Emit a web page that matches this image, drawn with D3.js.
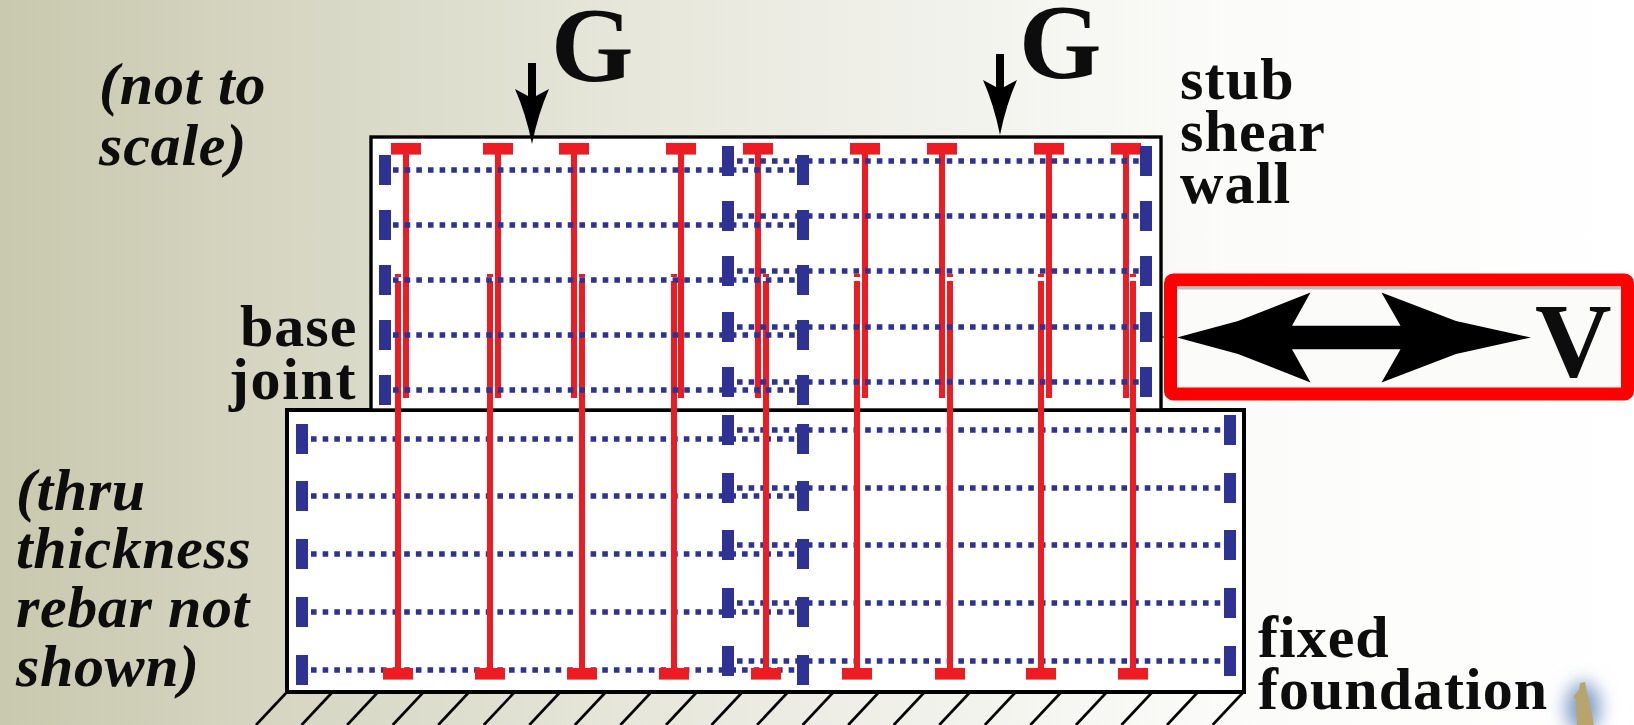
<!DOCTYPE html>
<html>
<head>
<meta charset="utf-8">
<script src="https://cdn.jsdelivr.net/npm/d3@7"></script>
<style>
  html, body { margin: 0; padding: 0; background: #fff; overflow: hidden; }
  svg { display: block; }
  text { font-family: "Liberation Serif", serif; font-weight: bold; fill: #0a0a0a; }
</style>
</head>
<body>
<div id="my_dataviz"></div>
<script>
// drawing units: x from left edge of foundation, y down from top of stub wall
var upperBarsX = [119, 211, 287, 394, 471, 578, 655, 762, 839]
var lowerBarsX = [111, 203, 295, 387, 479, 570, 663, 754, 846]

var wallRowsA = [33, 88, 143, 198, 253]
var wallRowsB = [24, 79, 134, 190, 245]
var footRowsA = [302, 359, 417, 475, 533]
var footRowsB = [293, 351, 408, 466, 524]

var wallEdges = [84, 874]
var footEdges = [0, 957]
var wallTop = 0, jointY = 273, footBottom = 555

var wallLeftBarX = 98, colAX = 441, colBX = 516, wallRightBarX = 859
var footLeftBarX = 15, footRightBarX = 943

var width = 1634, height = 725
var rebar = "#ed1c24", tie = "#2e3192", ink = "#050505"

var x = d3.scaleLinear().domain([0, 957]).range([287, 1244])
var y = d3.scaleLinear().domain([0, 555]).range([137, 692])

var svg = d3.select("#my_dataviz").append("svg")
  .attr("width", width)
  .attr("height", height)

var defs = svg.append("defs")
var grad = defs.append("linearGradient").attr("id", "bg")
grad.selectAll("stop")
  .data([[0, "#c9c9af"], [0.2, "#d8d8c6"], [0.38, "#e6e6da"], [0.6, "#f3f3ee"], [0.75, "#fbfbf9"], [1, "#ffffff"]])
  .enter().append("stop")
  .attr("offset", function(d) { return d[0] })
  .attr("stop-color", function(d) { return d[1] })
defs.append("filter").attr("id", "soft").append("feGaussianBlur").attr("stdDeviation", 0.45)
defs.append("filter").attr("id", "glow")
  .attr("x", "-100%").attr("y", "-100%").attr("width", "300%").attr("height", "300%")
  .append("feGaussianBlur").attr("stdDeviation", 9)

var g = svg.append("g").attr("filter", "url(#soft)")

g.append("rect").attr("width", width).attr("height", height).attr("fill", "url(#bg)")

// ground hatching under the foundation
g.append("g").selectAll("line")
  .data(d3.range(22))
  .enter().append("line")
  .attr("x1", function(d) { return x(d * 45.55) })
  .attr("y1", y(footBottom))
  .attr("x2", function(d) { return x(d * 45.55) - 31 })
  .attr("y2", y(footBottom) + 33)
  .attr("stroke", ink)
  .attr("stroke-width", 2.6)

// foundation and stub wall outlines
g.append("rect")
  .attr("x", x(footEdges[0])).attr("y", y(jointY))
  .attr("width", x(footEdges[1]) - x(footEdges[0]))
  .attr("height", y(footBottom) - y(jointY))
  .attr("fill", "#fff").attr("stroke", ink).attr("stroke-width", 4)
g.append("rect")
  .attr("x", x(wallEdges[0])).attr("y", y(wallTop))
  .attr("width", x(wallEdges[1]) - x(wallEdges[0]))
  .attr("height", y(jointY) - y(wallTop))
  .attr("fill", "#fff").attr("stroke", ink).attr("stroke-width", 3.4)

function dotRows(rows, x1, x2) {
  g.append("g").selectAll("line")
    .data(rows)
    .enter().append("line")
    .attr("x1", x(x1)).attr("x2", x(x2))
    .attr("y1", function(d) { return y(d) })
    .attr("y2", function(d) { return y(d) })
    .attr("stroke", tie)
    .attr("stroke-width", 5.6)
    .attr("stroke-dasharray", "5.6 6.05")
}

function tieBars(rows, xc) {
  g.append("g").selectAll("rect")
    .data(rows)
    .enter().append("rect")
    .attr("x", x(xc) - 6).attr("width", 12)
    .attr("y", function(d) { return y(d) - 15 }).attr("height", 30)
    .attr("fill", tie)
}

// foundation ties go under the rebar
dotRows(footRowsA, 24, 508)
dotRows(footRowsB, 450, 937)

// upper bars: cap at top of wall, stop just above the joint
var upper = g.append("g").selectAll("g").data(upperBarsX).enter().append("g")
upper.append("rect")
  .attr("x", function(d) { return x(d) - 15 }).attr("width", 30)
  .attr("y", y(6)).attr("height", 11.6)
  .attr("fill", rebar)
upper.append("rect")
  .attr("x", function(d) { return x(d) - 3 }).attr("width", 6)
  .attr("y", y(17)).attr("height", y(261) - y(17))
  .attr("fill", rebar)

// lower bars: lap with the upper ones, cap at bottom of foundation
var lower = g.append("g").selectAll("g").data(lowerBarsX).enter().append("g")
lower.append("rect")
  .attr("x", function(d) { return x(d) - 3 }).attr("width", 6)
  .attr("y", y(137)).attr("height", y(140) - y(137))
  .attr("fill", rebar)
lower.append("rect")
  .attr("x", function(d) { return x(d) - 3 }).attr("width", 6)
  .attr("y", y(144)).attr("height", y(531) - y(144))
  .attr("fill", rebar)
lower.append("rect")
  .attr("x", function(d) { return x(d) - 15 }).attr("width", 30)
  .attr("y", y(531)).attr("height", 11.6)
  .attr("fill", rebar)

// wall ties on top
dotRows(wallRowsA, 106, 508)
dotRows(wallRowsB, 450, 852)

tieBars(wallRowsA, wallLeftBarX)
tieBars(wallRowsB, colAX)
tieBars(wallRowsA, colBX)
tieBars(wallRowsB, wallRightBarX)
tieBars(footRowsA, footLeftBarX)
tieBars(footRowsB, colAX)
tieBars(footRowsA, colBX)
tieBars(footRowsB, footRightBarX)

// gravity load arrows
function downArrow(cx, top, tip) {
  var p = d3.path()
  p.moveTo(cx - 4, top)
  p.lineTo(cx + 4, top)
  p.lineTo(cx + 4, tip - 48)
  p.lineTo(cx + 17, tip - 55)
  p.quadraticCurveTo(cx + 6, tip - 30, cx, tip)
  p.quadraticCurveTo(cx - 6, tip - 30, cx - 17, tip - 55)
  p.lineTo(cx - 4, tip - 48)
  p.closePath()
  g.append("path").attr("d", p.toString()).attr("fill", ink)
}
downArrow(532, 63, 144)
downArrow(1000, 54, 135)

function label(str, lx, ly, size, italic, spacing) {
  g.append("text")
    .attr("x", lx).attr("y", ly)
    .attr("font-size", size)
    .attr("font-style", italic ? "italic" : "normal")
    .attr("letter-spacing", spacing || 0)
    .text(str)
}

label("G", 551, 81, 106)
label("G", 1019, 78, 106)

label("(not to", 99, 104, 60, true, 0.8)
label("scale)", 99, 165, 60, true, 0.8)

label("stub", 1180, 99, 60, false, 1.2)
label("shear", 1180, 151, 60, false, 1.2)
label("wall", 1180, 203, 60, false, 1.2)

label("base", 240, 346, 60, false, 1)
label("joint", 229, 399, 60, false, 1.6)

label("(thru", 16, 510, 60, true, 0.6)
label("thickness", 16, 568, 60, true, 0.6)
label("rebar not", 16, 627, 60, true, 0.6)
label("shown)", 16, 686, 60, true, 0.6)

label("fixed", 1258, 657, 60, false, 1)
label("foundation", 1258, 709, 60, false, 1)

// highlighted lateral load box
g.append("line")
  .attr("x1", x(874)).attr("x2", 1172)
  .attr("y1", 337).attr("y2", 337)
  .attr("stroke", ink).attr("stroke-width", 1)
g.append("rect")
  .attr("x", 1170.5).attr("y", 280)
  .attr("width", 457).attr("height", 114)
  .attr("rx", 3)
  .attr("fill", "#fbfbf9")
  .attr("stroke", "#ff0000")
  .attr("stroke-width", 13)
g.append("rect")
  .attr("x", 1177).attr("y", 286.5)
  .attr("width", 444).attr("height", 3)
  .attr("fill", "#bdbdbb")

var arrow = d3.path()
arrow.moveTo(1177, 337.5)
arrow.lineTo(1238, 321)
arrow.lineTo(1310.5, 292.5)
arrow.lineTo(1292, 325.7)
arrow.lineTo(1400.5, 325.7)
arrow.lineTo(1381.5, 292.5)
arrow.lineTo(1456, 321)
arrow.lineTo(1531, 337.5)
arrow.lineTo(1456, 354)
arrow.lineTo(1381.5, 382.5)
arrow.lineTo(1400.5, 349.3)
arrow.lineTo(1292, 349.3)
arrow.lineTo(1310.5, 382.5)
arrow.lineTo(1238, 354)
arrow.closePath()
g.append("path").attr("d", arrow.toString()).attr("fill", "#000")

label("V", 1535, 376, 106)

// small figure at the slide's corner
g.append("ellipse")
  .attr("cx", 1583).attr("cy", 708)
  .attr("rx", 17).attr("ry", 26)
  .attr("fill", "#7f9cc8")
  .attr("filter", "url(#glow)")
var fig = d3.path()
fig.moveTo(1580, 683)
fig.lineTo(1585, 682)
fig.lineTo(1587, 692)
fig.lineTo(1590, 705)
fig.lineTo(1594, 725)
fig.lineTo(1577, 725)
fig.lineTo(1576, 700)
fig.lineTo(1573, 697)
fig.lineTo(1579, 690)
fig.closePath()
g.append("path").attr("d", fig.toString()).attr("fill", "#b8a56e")
</script>
</body>
</html>
